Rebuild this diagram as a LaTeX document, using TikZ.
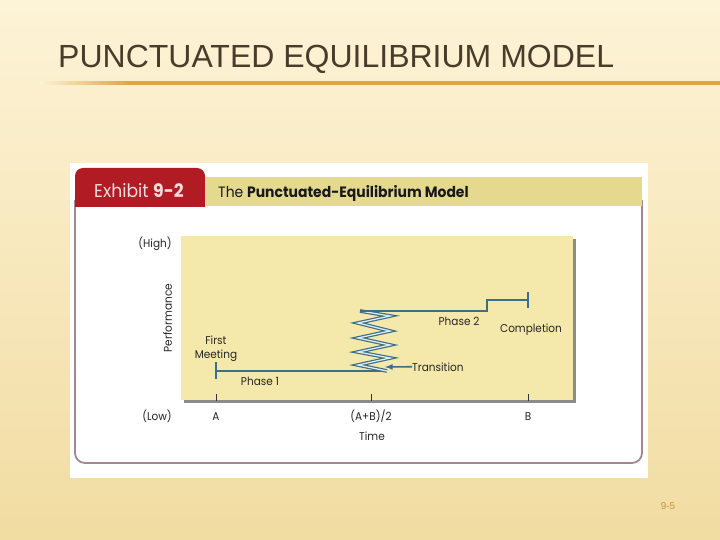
\documentclass[tikz,border=0pt]{standalone}
\usepackage{fontspec}
\setmainfont{Liberation Sans}
\newfontfamily\exfont[FakeStretch=0.93]{Poppins}
\usepackage{tikz}
\usetikzlibrary{arrows,calc,positioning}
\definecolor{bgtop}{HTML}{FDF3D6}
\definecolor{bgbot}{HTML}{F1DCA2}
\definecolor{titlebrown}{HTML}{4B3B2A}
\definecolor{ruleorange}{HTML}{E2A341}
\definecolor{cardedge}{HTML}{A88690}
\definecolor{tabred}{HTML}{B11C24}
\definecolor{tabtext}{HTML}{F8DADA}
\definecolor{bannerkhaki}{HTML}{E4D98F}
\definecolor{plotbg}{HTML}{F4E9AA}
\definecolor{phaseblue}{HTML}{3C6E86}
\definecolor{zigin}{HTML}{DDEBF2}
\definecolor{pagenum}{HTML}{C8963C}
\tikzset{%
	slidetitle/.style = {font=\fontsize{32}{35}\selectfont, text=titlebrown, inner sep=0pt},
	extext/.style     = {font=\exfont\fontsize{11.3}{13}\selectfont, text=black!85, inner sep=0pt, align=center},
	phase/.style      = {draw=phaseblue, line width=2pt},
	zigzag/.style     = {draw=phaseblue, double=zigin, line width=1.2pt, double distance=1.3pt, line join=miter},
	pointer/.style    = {draw=phaseblue, line width=1.6pt, -latex},
	tick/.style       = {draw=black!80, line width=0.8pt},
}
\begin{document}
\begin{tikzpicture}[x=1pt,y=-1pt]
	\useasboundingbox (0,0) rectangle (720,540);
	\shade[top color=bgtop, bottom color=bgbot] (0,0) rectangle (720,540);  % slide
	\node[slidetitle, anchor=base west] (title) at (58,68) {PUNCTUATED EQUILIBRIUM MODEL};
	\shade[left color=bgtop, right color=ruleorange] (40,82) rectangle (130,84.5);
	\shade[left color=ruleorange, right color=ruleorange] (130,82) rectangle (720,84.5);
	% exhibit card
	\fill[white] (70,163) rectangle (648,478);
	\draw[cardedge, line width=1.8pt, fill=white, rounded corners=10pt] (75,200) -- (75,463) -- (642,463) -- (642,200);
	\fill[tabred] (75,207) [rounded corners=8pt] -- (75,168) -- (205,168) [sharp corners] -- (205,207) -- cycle;
	\fill[bannerkhaki] (205,177) rectangle (642,206);
	\node[anchor=base west, inner sep=0pt, text=tabtext, font=\exfont\fontsize{18.5}{21}\selectfont] (exhibit) at (94,197) {Exhibit \textbf{9-2}};
	\node[anchor=base west, inner sep=0pt, text=black!90, font=\exfont\fontsize{15}{16}\selectfont] (caption) at (218,197) {The \textbf{Punctuated-Equilibrium Model}};
	% plot area
	\fill[black!45] (184,239) rectangle (576,403);
	\fill[plotbg] (181,236) rectangle (573,400);
	\node[extext] (high) at (155,244) {(High)};
	\node[extext, rotate=90] (perf) at (167.5,318) {Performance};
	\node[extext, anchor=base] (low) at (157,420) {(Low)};
	\foreach \x/\lab in {216/A, 371/{(A+B)/2}, 528/B} {
		\draw[tick] (\x,394) -- (\x,401);
		\node[extext, anchor=base] at (\x,420) {\lab};
	}
	\node[extext, anchor=base] (time) at (372,440) {Time};
	% phases
	\coordinate (p1s) at (216,371);
	\coordinate (p1e) at (387,371);
	\coordinate (p2s) at (360,311);
	\coordinate (step) at (487,311);
	\coordinate (p2e) at (528,300);
	\coordinate (zz) at (385,367);
	\draw[phase] (p1s) -- (p1e);
	\draw[phase] ($(p1s)+(0,-9)$) -- ($(p1s)+(0,8)$);
	\draw[zigzag] (p1e) -- (358,365) -- (390,358) -- (358,352) -- (390,345) -- (358,338) -- (390,331) -- (358,323) -- (390,316) -- (p2s);
	\draw[phase] (p2s) -- (step) -- (step |- p2e) -- (p2e);
	\draw[phase] ($(p2e)+(0,-8)$) -- ($(p2e)+(0,8)$);
	\node[extext, anchor=base] (first) at (216,344) {First};
	\node[extext, anchor=base] (meeting) at (216,358) {Meeting};
	\node[extext, anchor=base] (phase1) at (260,385) {Phase 1};
	\node[extext, anchor=base] (phase2) at (459,325) {Phase 2};
	\node[extext, anchor=base] (completion) at (531,332) {Completion};
	\node[extext, anchor=base west] (trans) at (412,371) {Transition};
	\draw[pointer] (trans.west) -- (zz);
	\node[anchor=base, text=pagenum, font=\fontsize{10}{12}\selectfont] (page) at (668,509) {9-5};
\end{tikzpicture}
\end{document}
